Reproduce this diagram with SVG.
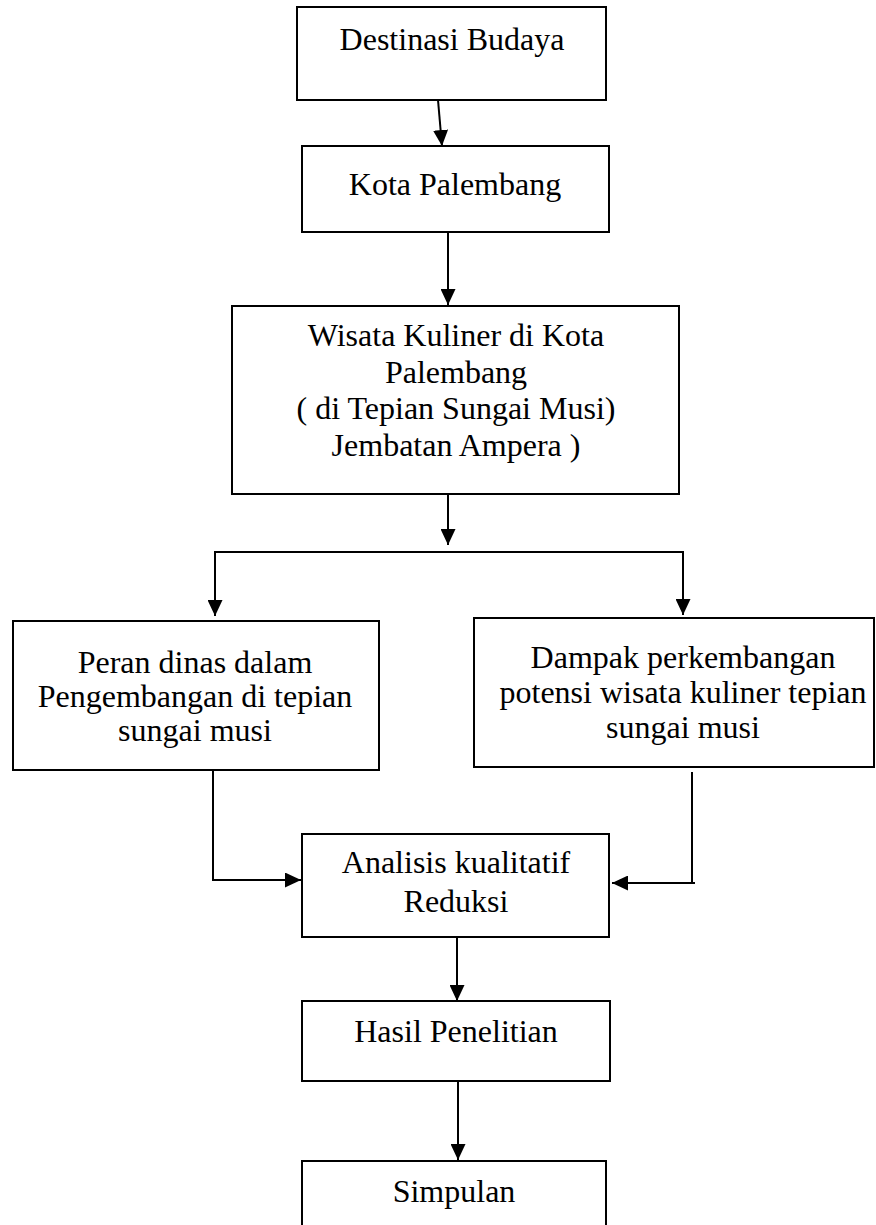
<svg xmlns="http://www.w3.org/2000/svg" width="876" height="1225" viewBox="0 0 876 1225">
<defs>
<style>
.box{fill:#fff;stroke:#000;stroke-width:2}
.c{fill:none;stroke:#000;stroke-width:2}
</style>
<marker id="ah" markerUnits="userSpaceOnUse" markerWidth="16" markerHeight="15" refX="16" refY="7.5" orient="auto" viewBox="0 0 16 15">
<path d="M0,0 L16,7.5 L0,15 z" fill="#000"/>
</marker>
</defs>
<rect width="876" height="1225" fill="#fff"/>
<g font-family="Liberation Serif, Times New Roman, serif" font-size="32" fill="#000" text-anchor="middle">
<g id="n1"><rect class="box" x="297" y="7" width="309" height="93"/><text x="452" y="50">Destinasi Budaya</text></g>
<g id="n2"><rect class="box" x="302" y="146" width="307" height="86"/><text x="455" y="195">Kota Palembang</text></g>
<g id="n3"><rect class="box" x="232" y="306" width="447" height="188"/>
<text x="456" y="346">Wisata Kuliner di Kota</text>
<text x="456" y="383">Palembang</text>
<text x="456" y="419">( di Tepian Sungai Musi)</text>
<text x="456" y="456">Jembatan Ampera )</text></g>
<g id="n4"><rect class="box" x="13" y="621" width="366" height="149"/>
<text x="195" y="673">Peran dinas dalam</text>
<text x="195" y="707">Pengembangan di tepian</text>
<text x="195" y="741">sungai musi</text></g>
<g id="n5"><rect class="box" x="474" y="618" width="400" height="149"/>
<text x="683" y="668">Dampak perkembangan</text>
<text x="683" y="703">potensi wisata kuliner tepian</text>
<text x="683" y="738">sungai musi</text></g>
<g id="n6"><rect class="box" x="302" y="834" width="307" height="103"/>
<text x="456" y="873">Analisis kualitatif</text>
<text x="456" y="912">Reduksi</text></g>
<g id="n7"><rect class="box" x="302" y="1001" width="308" height="80"/><text x="456" y="1042">Hasil Penelitian</text></g>
<g id="n8"><rect class="box" x="302" y="1161" width="304" height="70"/><text x="454" y="1202">Simpulan</text></g>
</g>
<g id="connectors">
<line class="c" x1="438" y1="100" x2="442" y2="146" marker-end="url(#ah)"/>
<line class="c" x1="448" y1="232" x2="448" y2="305" marker-end="url(#ah)"/>
<line class="c" x1="448" y1="494" x2="448" y2="545" marker-end="url(#ah)"/>
<line class="c" x1="214" y1="552" x2="684" y2="552"/>
<line class="c" x1="215" y1="551" x2="215" y2="616" marker-end="url(#ah)"/>
<line class="c" x1="683" y1="551" x2="683" y2="615" marker-end="url(#ah)"/>
<polyline class="c" points="213,770 213,880 301,880" marker-end="url(#ah)"/>
<line class="c" x1="692" y1="772" x2="692" y2="884"/>
<line class="c" x1="695" y1="883" x2="612" y2="883" marker-end="url(#ah)"/>
<line class="c" x1="457" y1="937" x2="457" y2="1001" marker-end="url(#ah)"/>
<line class="c" x1="458" y1="1081" x2="458" y2="1160" marker-end="url(#ah)"/>
</g>
</svg>
